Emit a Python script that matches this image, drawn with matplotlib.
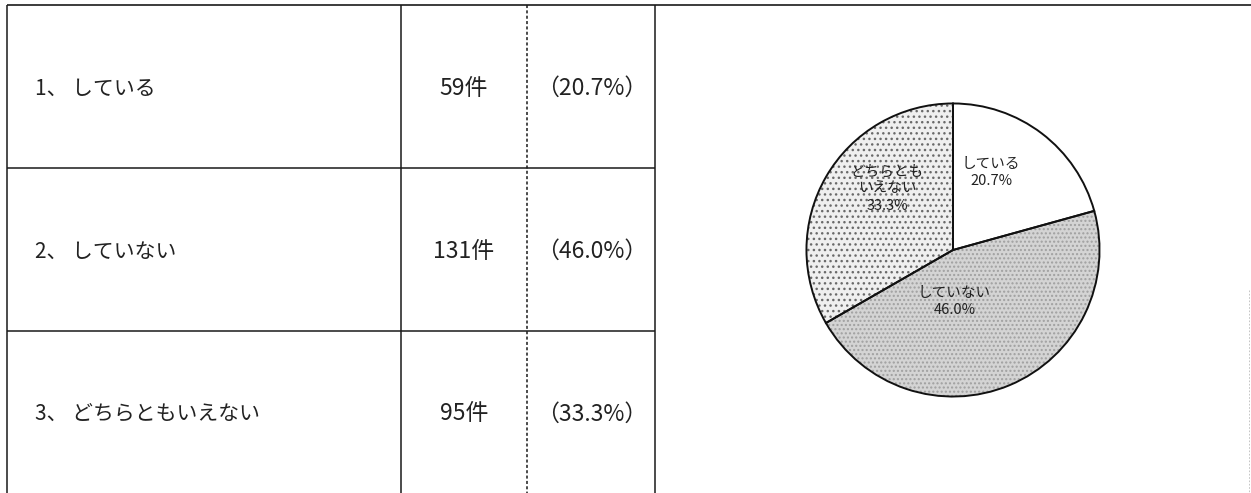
import numpy as np
import matplotlib
matplotlib.use('Agg')
import matplotlib.pyplot as plt

plt.rcParams['font.family'] = ['Noto Sans CJK JP', 'DejaVu Sans']

#Survey answers
labels = ['1、 している', '2、 していない', '3、 どちらともいえない']
counts = [59, 131, 95]
percents = [20.7, 46.0, 33.3]

#Pie labels (inside the slices)
pie_labels = ['している', 'していない', 'どちらとも\nいえない']

W, H = 1251, 493
fig = plt.figure(figsize=(W/100, H/100), dpi=100)
fig.patch.set_facecolor('white')

#Table part: one axes over the whole figure in pixel units
ax = fig.add_axes([0, 0, 1, 1])
ax.set_xlim(0, W)
ax.set_ylim(H, 0)
ax.axis('off')

line_c = '#1a1a1a'
row_edges = [5, 168, 331, H]
ax.hlines(5, 7, W, color=line_c, lw=1.2)
ax.hlines(row_edges[1:-1], 7, 655, color=line_c, lw=1.1)
ax.vlines([7, 401, 655], 5, H, color=line_c, lw=1.1)
ax.vlines(527, 5, H, color=line_c, lw=1.1, linestyles=(0, (2, 1.5)))
ax.vlines(1249, 290, H, color='#bbbbbb', lw=0.6, linestyles=(0, (2, 2)))

for i, lab in enumerate(labels):
    yc = (row_edges[i] + row_edges[i+1]) / 2 + 2
    ax.text(35, yc, lab, fontsize=15, ha='left', va='center', color='#222222')
    ax.text(464, yc, '%d件' % counts[i], fontsize=16.5, ha='center', va='center', color='#222222')
    ax.text(592, yc, '（%.1f%%）' % percents[i], fontsize=16.5, ha='center', va='center', color='#222222')

#Pie part
cx, cy, r = 953, 250, 148
ax2 = fig.add_axes([(cx - r)/W, (H - cy - r)/H, 2*r/W, 2*r/H])

plt.rcParams['hatch.linewidth'] = 1.0
wedges, _ = ax2.pie(percents, startangle=90, counterclock=False, radius=1,
                    colors=['white', '#d4d4d4', '#efefef'],
                    wedgeprops=dict(linewidth=0))
wedges[1].set_hatch('....')
wedges[1].set_edgecolor('#a0a0a0')
wedges[2].set_hatch('...')
wedges[2].set_edgecolor('#6a6a6a')

#outlines on top
w2, _ = ax2.pie(percents, startangle=90, counterclock=False, radius=1,
                wedgeprops=dict(fill=False, edgecolor='#111111', linewidth=1.4))

ax2.set_xlim(-1.01, 1.01)
ax2.set_ylim(-1.01, 1.01)
ax2.axis('off')

#text inside slices
label_pos = [(0.26, 0.53), (0.01, -0.35), (-0.45, 0.42)]
for i, (px, py) in enumerate(label_pos):
    ax2.text(px, py, '%s\n%.1f%%' % (pie_labels[i], percents[i]), fontsize=10.5,
             ha='center', va='center', color='#222222', linespacing=1.3)

fig.savefig('out.png', dpi=100, facecolor='white')
